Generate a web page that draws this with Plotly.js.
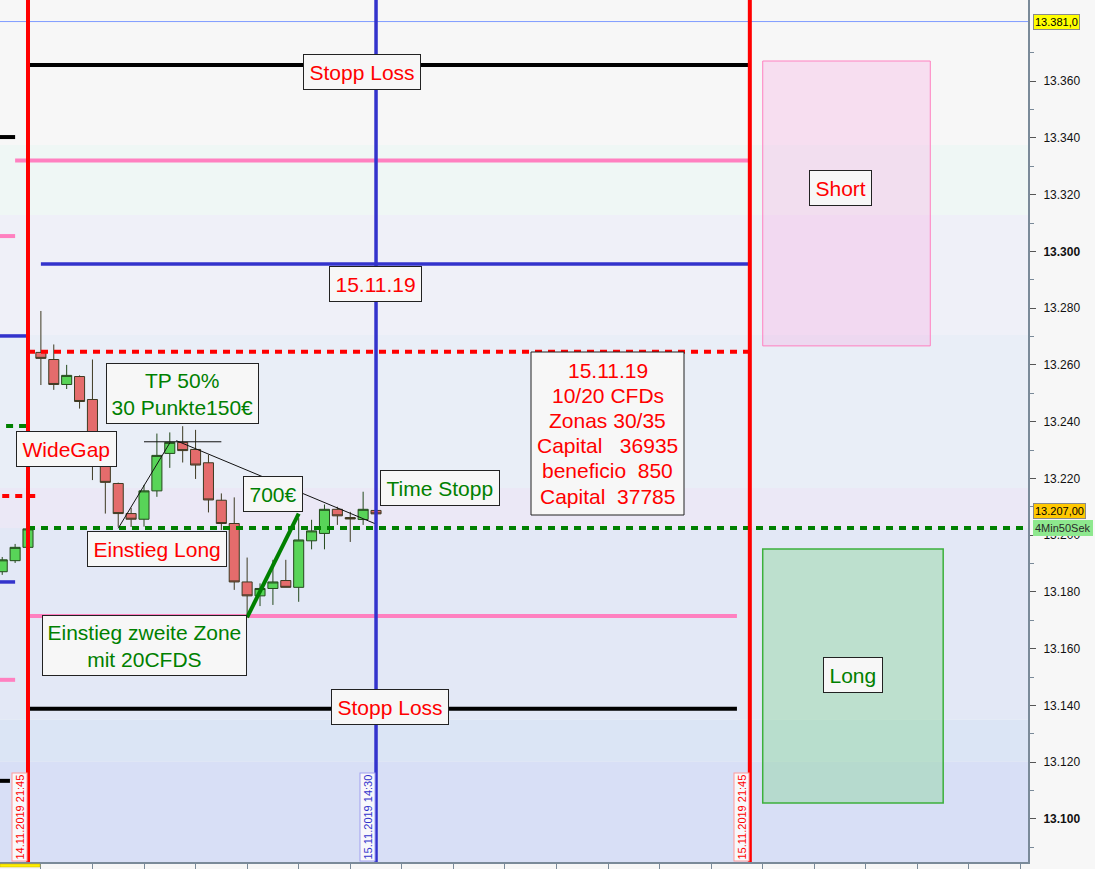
<!DOCTYPE html>
<html><head><meta charset="utf-8">
<script src="https://cdn.plot.ly/plotly-3.0.1.min.js"></script>
<style>html,body{margin:0;padding:0;background:#f7f7f7;}#chart{width:1095px;height:869px;}</style>
</head><body><div id="chart"></div><script>
// ---- candle data (15-min bars, index 0 = 14.11.2019 21:45) ----
const candleIdx = [-2,-1,0,1,2,3,4,5,6,7,8,9,10,11,12,13,14,15,16,17,18,19,20,21,22,23,24,25,26,27];
const openP  = [13187.1,13191.0,13195.7,13264.4,13261.9,13253.1,13255.9,13247.8,13228.0,13218.2,13207.6,13205.6,13215.6,13228.8,13232.7,13230.2,13225.5,13212.3,13204.1,13183.5,13178.6,13181.2,13184.0,13181.6,13198.0,13200.6,13209.1,13206.2,13205.5,13208.7];
const highP  = [13192.3,13196.9,13203.0,13279.0,13267.2,13260.0,13256.3,13261.9,13230.0,13218.5,13209.6,13217.7,13235.8,13236.2,13238.4,13237.1,13228.3,13214.7,13213.3,13192.1,13183.0,13191.3,13191.3,13206.0,13205.4,13210.8,13210.0,13208.2,13215.3,13209.0];
const lowP   = [13186.0,13190.2,13194.5,13252.9,13251.2,13251.5,13244.6,13219.4,13207.6,13202.9,13202.9,13203.0,13213.5,13223.7,13225.6,13219.8,13208.0,13201.8,13180.7,13171.0,13175.0,13175.4,13181.6,13176.5,13195.0,13195.0,13203.6,13197.6,13203.6,13207.0];
const closeP = [13191.3,13195.7,13202.2,13262.3,13253.1,13256.3,13247.1,13228.0,13218.6,13207.6,13205.6,13215.6,13228.1,13232.7,13229.8,13224.7,13212.4,13204.1,13183.5,13178.6,13181.2,13183.5,13181.6,13198.3,13201.5,13209.1,13206.8,13205.7,13209.1,13207.5];

// ---- axis ----
const yTickVals = [13100,13120,13140,13160,13180,13200,13220,13240,13260,13280,13300,13320,13340,13360];
const yTickText = ['<b>13.100</b>','13.120','13.140','13.160','13.180','13.200','13.220','13.240','13.260','13.280','<b>13.300</b>','13.320','13.340','13.360'];
const xTickVals = [1,5,9,13,17,21,25,29,33,37,41,45,49,53,57,61,65,69,73,77];

// ---- vertical time markers ----
const markerIdx = [0, 27, 56];
const markerKind = ['red','blue','red'];
const markerLabel = ['14.11.2019 21:45','15.11.2019 14:30','15.11.2019 21:45'];

// ---- horizontal levels (current day) ----
const levelPrice = [13365.7, 13332.0, 13295.6, 13264.6, 13202.5, 13171.5, 13138.8];
const levelFrom  = [0, -1, 1, 0, 0, 0, 0];
const levelTo    = [56, 56, 56, 56, 77.6, 55, 55];
const levelKind  = ['black','pink','blue','redDash','greenDash','pink','black'];

// ---- previous-day level stubs ----
const prevPrice = [13340.3, 13305.4, 13270.2, 13238.5, 13213.8, 13183.5, 13149.0, 13113.4];
const prevFrom  = [-2.2, -2.2, -2.2, -1.7, -2.0, -2.2, -2.2, -2.2];
const prevTo    = [-1.0, -1.0, 0.0, 0.0, 0.8, -1.0, -1.0, -1.4];
const prevKind  = ['black','pink','blue','greenDash','redDash','blue','pink','black'];

// ---- trend lines ----
const trendX0 = [7, 9, 11.5];
const trendY0 = [13202.4, 13232.9, 13233.3];
const trendX1 = [11, 15, 27];
const trendY1 = [13232.5, 13232.9, 13203.9];
const gainX = [17, 21];
const gainY = [13171.0, 13207.6];

// ---- zones ----
const shortZone = {x: [57, 70], y: [13266.7, 13367.1]};
const longZone  = {x: [57, 71], y: [13105.6, 13195.1]};

// ---- background bands ----
const bandEdges = [13400, 13337.5, 13312.8, 13270.5, 13216.6, 13202.5, 13134.9, 13120.1, 13080];
const bandColors = ['#f7f7f7','#eff7f5','#eff0f8','#e9eef7','#ebe8f6','#e3e8f6','#dbe5f5','#d8dff6'];

// ---- price tags ----
const highTag = 13381.0;
const lastTag = 13207.0;

// ---- summary note ----
const noteLines = ['15.11.19','10/20 CFDs','Zonas 30/35','Capital   36935','beneficio  850','Capital  37785'];

const styles = {
  black: {color:'#000000', width:4},
  pink: {color:'#ff80c0', width:4},
  blue: {color:'#3333cc', width:3.5},
  redDash: {color:'#ff0000', width:4, dash:'7px,6px'},
  greenDash: {color:'#008000', width:4, dash:'7px,6px'},
  red: {color:'#ff0000', width:4},
};

const W = 1028, H = 862;
const px = v => v / W;
const py = v => 1 - v / H;

const shapes = [];
for (let i = 0; i < bandColors.length; i++) {
  shapes.push({type:'rect', layer:'below', xref:'paper', yref:'y', x0:0, x1:1,
    y0:bandEdges[i+1], y1:bandEdges[i], fillcolor:bandColors[i], line:{width:0}});
}
shapes.push({type:'rect', layer:'below', xref:'x', yref:'y', x0:shortZone.x[0], x1:shortZone.x[1],
  y0:shortZone.y[0], y1:shortZone.y[1], fillcolor:'rgba(247,167,224,0.30)', line:{color:'#ff80c0', width:1}});
shapes.push({type:'rect', layer:'below', xref:'x', yref:'y', x0:longZone.x[0], x1:longZone.x[1],
  y0:longZone.y[0], y1:longZone.y[1], fillcolor:'rgba(137,212,151,0.42)', line:{color:'#3cb03c', width:1.5}});
shapes.push({type:'line', layer:'above', xref:'paper', yref:'y', x0:0, x1:1, y0:highTag, y1:highTag,
  line:{color:'#7f9cff', width:1}});
for (let i = 0; i < prevPrice.length; i++) {
  shapes.push({type:'line', layer:'above', xref:'x', yref:'y', x0:prevFrom[i], x1:prevTo[i],
    y0:prevPrice[i], y1:prevPrice[i], line:Object.assign({}, styles[prevKind[i]])});
}
for (let i = 0; i < levelPrice.length; i++) {
  shapes.push({type:'line', layer:'above', xref:'x', yref:'y', x0:levelFrom[i], x1:levelTo[i],
    y0:levelPrice[i], y1:levelPrice[i], line:Object.assign({}, styles[levelKind[i]])});
}
for (let i = 0; i < trendX0.length; i++) {
  shapes.push({type:'line', layer:'above', xref:'x', yref:'y', x0:trendX0[i], x1:trendX1[i],
    y0:trendY0[i], y1:trendY1[i], line:{color:'#111111', width:1}});
}
shapes.push({type:'line', layer:'above', xref:'x', yref:'y', x0:gainX[0], x1:gainX[1],
  y0:gainY[0], y1:gainY[1], line:{color:'#008000', width:4}});
for (let i = 0; i < markerIdx.length; i++) {
  shapes.push({type:'line', layer:'above', xref:'x', yref:'paper', x0:markerIdx[i], x1:markerIdx[i],
    y0:0, y1:1, line:Object.assign({}, styles[markerKind[i]], markerKind[i]==='blue'?{width:3.5}:{})});
}
// note box (covers the dotted line like in the reference)
shapes.push({type:'rect', layer:'above', xref:'paper', yref:'paper', x0:px(531), x1:px(684),
  y0:py(515), y1:py(352), fillcolor:'#f7f7f7', line:{color:'#222222', width:1}});
// small yellow marker under x axis
shapes.push({type:'rect', layer:'above', xref:'paper', yref:'paper', x0:0, x1:px(40),
  y0:-0.0058, y1:-0.0023, fillcolor:'#ffee00', line:{color:'#c8b400', width:0.5}});

const FONT = 'Liberation Sans, Arial, sans-serif';
const RED = '#ff0000', GREEN = '#008000';
const nb = s => s.replace(/ /g, '\u00a0');
function box(text, cx, cy, color, size) {
  return {xref:'paper', yref:'paper', x:px(cx), y:py(cy), xanchor:'center', yanchor:'middle',
    text:text, showarrow:false, font:{family:FONT, size:size||21, color:color},
    bgcolor:'#f7f7f7', bordercolor:'#222222', borderwidth:1, borderpad:5.5, align:'center'};
}
const annotations = [
  box('Stopp Loss', 362, 72, RED),
  box('15.11.19', 375, 284, RED),
  box('Short', 840, 188, RED),
  Object.assign(box('TP 50%<br>30 Punkte150€', 182, 393, GREEN), {borderpad:4.5}),
  box('WideGap', 66, 449, RED),
  box('700€', 273, 494, GREEN),
  box('Time Stopp', 440, 488, GREEN),
  box('Einstieg Long', 157, 549, RED),
  Object.assign(box('Einstieg zweite Zone<br>mit 20CFDS', 144, 645, GREEN), {borderpad:4.5}),
  box('Stopp Loss', 390, 707, RED),
  box('Long', 853, 675, GREEN),
];
// note lines, each placed on its own row
for (let i = 0; i < noteLines.length; i++) {
  annotations.push({xref:'paper', yref:'paper', x:px(607.5), y:py(370 + i * 25.2), xanchor:'center', yanchor:'middle',
    text:nb(noteLines[i]), showarrow:false, font:{family:FONT, size:21, color:RED}});
}
// date labels at the bottom
const dateCx = [19, 367, 741];
for (let i = 0; i < markerIdx.length; i++) {
  const isBlue = markerKind[i] === 'blue';
  annotations.push({xref:'paper', yref:'paper', x:px(dateCx[i]), y:0, xanchor:'center', yanchor:'bottom',
    text:markerLabel[i], textangle:-90, showarrow:false,
    font:{family:FONT, size:11, color:isBlue?'#3333cc':'#ff0000'},
    bgcolor:'#f8f8fb', bordercolor:isBlue?'#a0a0f0':'#ff9a9a', borderwidth:1, borderpad:1});
}
// price tags on the axis
annotations.push({xref:'paper', yref:'y', x:1, y:highTag, xanchor:'left', yanchor:'middle', xshift:5,
  text:'13.381,0', showarrow:false, font:{family:FONT, size:11, color:'#000'},
  bgcolor:'#ffff00', bordercolor:'#8a8a8a', borderwidth:1, borderpad:1});
annotations.push({xref:'paper', yref:'y', x:1, y:lastTag, xanchor:'left', yanchor:'middle', xshift:5, yshift:4,
  text:'13.207,00', showarrow:false, font:{family:FONT, size:11, color:'#000'},
  bgcolor:'#ffc800', bordercolor:'#8a8a8a', borderwidth:1, borderpad:1});
annotations.push({xref:'paper', yref:'y', x:1, y:lastTag, xanchor:'left', yanchor:'middle', xshift:5, yshift:-13,
  text:'4Min50Sek', showarrow:false, font:{family:FONT, size:11, color:'#2a2a2a'},
  bgcolor:'#8ee88e', bordercolor:'#8ee88e', borderwidth:1, borderpad:1});

const trace = {
  type:'candlestick', x:candleIdx, open:openP, high:highP, low:lowP, close:closeP,
  increasing:{line:{color:'#24491c', width:1}, fillcolor:'#58d458'},
  decreasing:{line:{color:'#3e3a22', width:1}, fillcolor:'#e46c6c'},
  whiskerwidth:0, hoverinfo:'skip', showlegend:false
};

const layout = {
  width:1095, height:869,
  margin:{l:0, r:67, t:0, b:7, pad:0},
  paper_bgcolor:'#f7f7f7', plot_bgcolor:'#f7f7f7',
  font:{family:FONT, color:'#000'},
  showlegend:false,
  boxgap:0.22, boxgroupgap:0,
  xaxis:{type:'linear', range:[-2.172, 77.58], rangeslider:{visible:false},
    showgrid:false, zeroline:false, showticklabels:false,
    tickmode:'array', tickvals:xTickVals, ticks:'outside', ticklen:5, tickcolor:'#7a8a99',
    showline:true, linecolor:'#7a8a99', linewidth:2, fixedrange:true},
  yaxis:{side:'right', range:[13084.8, 13388.6], showgrid:false, zeroline:false,
    tickmode:'array', tickvals:yTickVals, ticktext:yTickText,
    ticks:'outside', ticklen:6, tickcolor:'#555', ticklabelstandoff:5,
    tickfont:{family:FONT, size:12, color:'#111'},
    minor:{tickmode:'linear', tick0:13090, dtick:20, ticks:'outside', ticklen:4, tickcolor:'#7a8a99'},
    showline:true, linecolor:'#7a8a99', linewidth:2, fixedrange:true},
  shapes:shapes,
  annotations:annotations
};

Plotly.newPlot('chart', [trace], layout, {displayModeBar:false, staticPlot:true});
</script></body></html>
